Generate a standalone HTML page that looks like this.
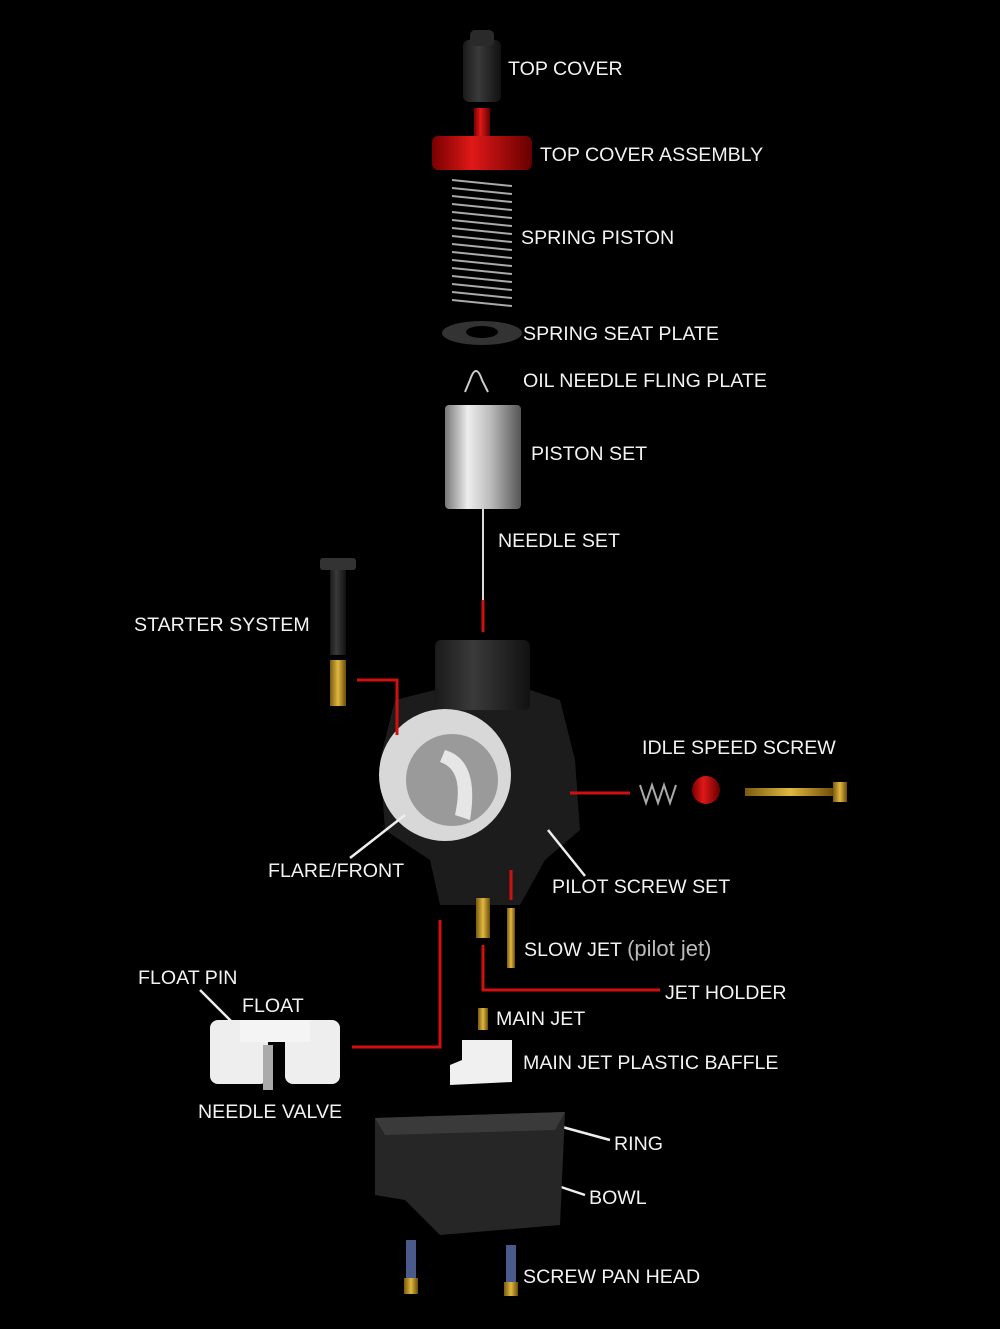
<!DOCTYPE html>
<html><head><meta charset="utf-8"><style>
html,body{margin:0;padding:0;background:#000;}
svg{display:block}
text{font-family:"Liberation Sans",sans-serif;font-size:19.6px;fill:#f2f2f2;}
</style></head><body>
<svg width="1000" height="1329" viewBox="0 0 1000 1329" xmlns="http://www.w3.org/2000/svg">
<defs>
<linearGradient id="silver" x1="0" x2="1"><stop offset="0" stop-color="#777"/><stop offset="0.3" stop-color="#eee"/><stop offset="0.6" stop-color="#bbb"/><stop offset="1" stop-color="#555"/></linearGradient>
<linearGradient id="red" x1="0" x2="1"><stop offset="0" stop-color="#700"/><stop offset="0.4" stop-color="#e01818"/><stop offset="1" stop-color="#600"/></linearGradient>
<linearGradient id="blk" x1="0" x2="1"><stop offset="0" stop-color="#1a1a1a"/><stop offset="0.4" stop-color="#3a3a3a"/><stop offset="1" stop-color="#111"/></linearGradient>
<linearGradient id="gold" x1="0" x2="1"><stop offset="0" stop-color="#7a5a10"/><stop offset="0.5" stop-color="#e0b840"/><stop offset="1" stop-color="#6a4a08"/></linearGradient>
</defs>
<rect width="1000" height="1329" fill="#000"/>
<rect x="463" y="40" width="38" height="62" rx="6" fill="url(#blk)"/>
<rect x="470" y="30" width="24" height="16" rx="5" fill="#2a2a2a"/>
<rect x="474" y="108" width="16" height="30" fill="url(#red)"/>
<rect x="432" y="136" width="100" height="34" rx="6" fill="url(#red)"/>
<g stroke="#aaa" stroke-width="2" fill="none">
<path d="M452 180 L512 186 M452 188 L512 194 M452 196 L512 202 M452 204 L512 210 M452 212 L512 218 M452 220 L512 226 M452 228 L512 234 M452 236 L512 242 M452 244 L512 250 M452 252 L512 258 M452 260 L512 266 M452 268 L512 274 M452 276 L512 282 M452 284 L512 290 M452 292 L512 298 M452 300 L512 306"/>
</g>
<ellipse cx="482" cy="333" rx="40" ry="12" fill="#333"/>
<ellipse cx="482" cy="332" rx="16" ry="6" fill="#000"/>
<path d="M465 392 L470 380 Q476 362 482 380 L488 392" stroke="#ccc" stroke-width="2" fill="none"/>
<rect x="445" y="405" width="76" height="104" rx="4" fill="url(#silver)"/>
<line x1="483" y1="509" x2="483" y2="600" stroke="#ddd" stroke-width="2"/>
<line x1="483" y1="600" x2="483" y2="632" stroke="#d01010" stroke-width="3"/>
<rect x="320" y="558" width="36" height="12" rx="3" fill="#333"/>
<rect x="330" y="570" width="16" height="85" fill="url(#blk)"/>
<rect x="330" y="660" width="16" height="46" fill="url(#gold)"/>
<path d="M435 645 L530 645 L530 690 L560 700 L575 760 L580 830 L545 860 L520 905 L440 905 L430 860 L385 830 L380 760 L395 700 L435 690 Z" fill="#1c1c1c"/>
<rect x="435" y="640" width="95" height="70" rx="6" fill="url(#blk)"/>
<circle cx="445" cy="775" r="66" fill="#d8d8d8"/>
<circle cx="452" cy="780" r="46" fill="#9a9a9a"/>
<path d="M445 750 Q480 760 470 820 L455 815 Q465 770 440 762 Z" fill="#e6e6e6"/>
<g stroke="#d01010" stroke-width="3" fill="none">
<path d="M357 680 L397 680 L397 735"/>
<path d="M570 793 L630 793"/>
<path d="M511 870 L511 900"/>
<path d="M483 945 L483 990 L660 990"/>
<path d="M440 920 L440 1047 L352 1047"/>
</g>
<g stroke="#eee" stroke-width="2.5" fill="none">
<path d="M350 858 L405 815"/>
<path d="M585 876 L548 830"/>
<path d="M200 990 L235 1025"/>
<path d="M555 1125 L610 1140"/>
<path d="M525 1175 L585 1195"/>
</g>
<path d="M640 785 l6 18 l6 -18 l6 18 l6 -18 l6 18 l6 -18" stroke="#aaa" stroke-width="2" fill="none"/>
<circle cx="706" cy="790" r="14" fill="url(#red)"/>
<rect x="745" y="788" width="90" height="8" fill="url(#gold)"/>
<rect x="833" y="782" width="14" height="20" fill="url(#gold)"/>
<rect x="476" y="898" width="14" height="40" fill="url(#gold)"/>
<rect x="507" y="908" width="8" height="60" fill="url(#gold)"/>
<rect x="478" y="1008" width="10" height="22" fill="url(#gold)"/>
<rect x="210" y="1020" width="58" height="64" rx="8" fill="#eee"/>
<rect x="285" y="1020" width="55" height="64" rx="8" fill="#eee"/>
<rect x="240" y="1020" width="70" height="22" fill="#f4f4f4"/>
<rect x="263" y="1045" width="10" height="45" fill="#aaa"/>
<path d="M462 1040 L512 1040 L512 1082 L450 1085 L450 1065 L462 1060 Z" fill="#f0f0f0"/>
<path d="M375 1118 L565 1112 L560 1225 L440 1235 L405 1200 L375 1195 Z" fill="#262626"/>
<path d="M375 1118 L565 1112 L555 1130 L385 1135 Z" fill="#3a3a3a"/>
<rect x="406" y="1240" width="10" height="40" fill="#4a5a8a"/>
<rect x="404" y="1278" width="14" height="16" fill="url(#gold)"/>
<rect x="506" y="1245" width="10" height="40" fill="#4a5a8a"/>
<rect x="504" y="1282" width="14" height="14" fill="url(#gold)"/>
<text x="508" y="75">TOP COVER</text>
<text x="540" y="161">TOP COVER ASSEMBLY</text>
<text x="521" y="244">SPRING PISTON</text>
<text x="523" y="340">SPRING SEAT PLATE</text>
<text x="523" y="387">OIL NEEDLE FLING PLATE</text>
<text x="531" y="460">PISTON SET</text>
<text x="498" y="547">NEEDLE SET</text>
<text x="134" y="631">STARTER SYSTEM</text>
<text x="642" y="754">IDLE SPEED SCREW</text>
<text x="268" y="877">FLARE/FRONT</text>
<text x="552" y="893">PILOT SCREW SET</text>
<text x="524" y="956">SLOW JET <tspan style="fill:#bbb;font-size:22px">(pilot jet)</tspan></text>
<text x="138" y="984">FLOAT PIN</text>
<text x="242" y="1012">FLOAT</text>
<text x="665" y="999">JET HOLDER</text>
<text x="496" y="1025">MAIN JET</text>
<text x="523" y="1069">MAIN JET PLASTIC BAFFLE</text>
<text x="198" y="1118">NEEDLE VALVE</text>
<text x="614" y="1150">RING</text>
<text x="589" y="1204">BOWL</text>
<text x="523" y="1283">SCREW PAN HEAD</text>
</svg>
</body></html>
